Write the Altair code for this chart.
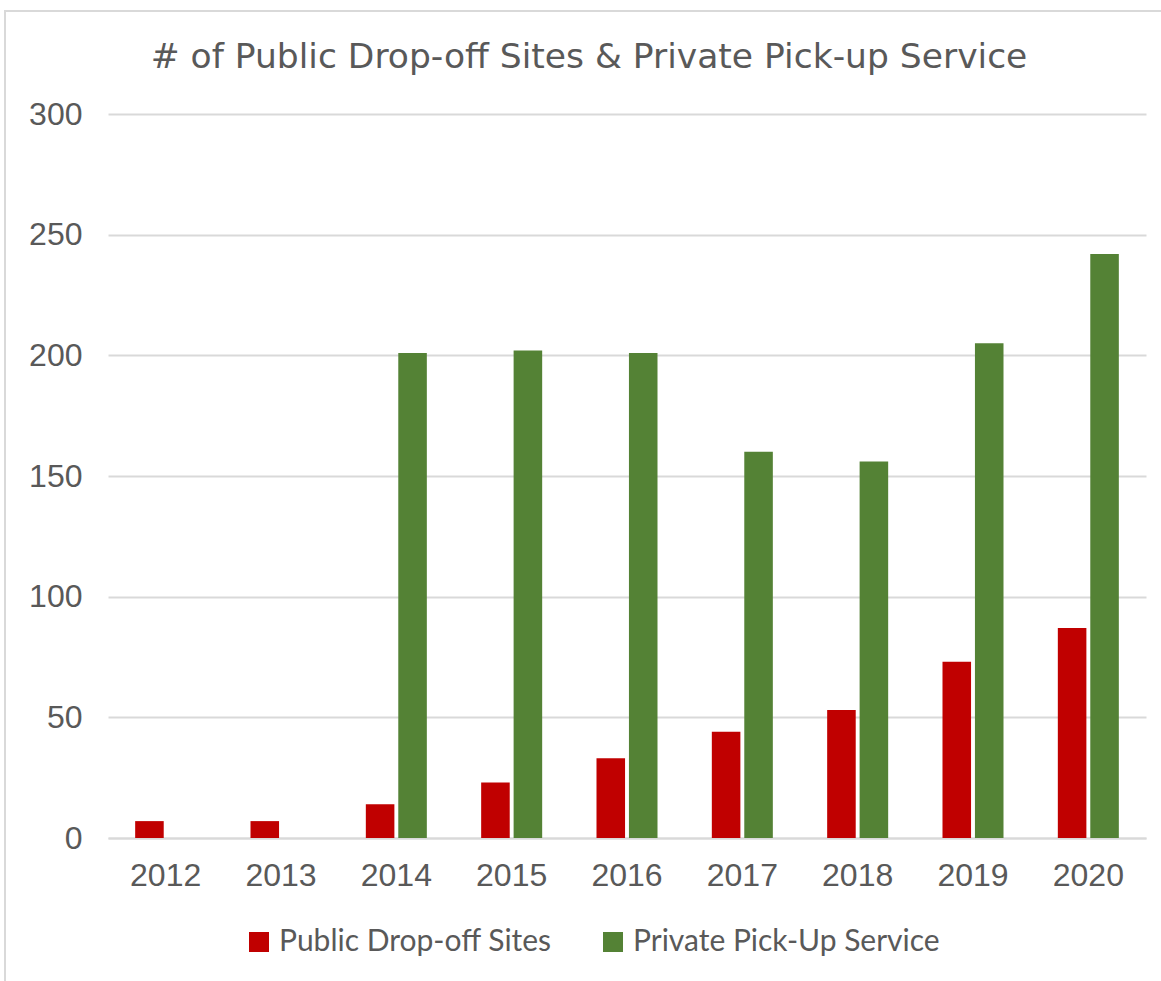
import altair as alt
import pandas as pd

years = ["2012", "2013", "2014", "2015", "2016", "2017", "2018", "2019", "2020"]
public_dropoff = [7, 7, 14, 23, 33, 44, 53, 73, 87]
private_pickup = [None, None, 201, 202, 201, 160, 156, 205, 242]
series_names = ["Public Drop-off Sites", "Private Pick-Up Service"]
series_colors = ["#C00000", "#548235"]
y_ticks = [0, 50, 100, 150, 200, 250, 300]
title_text = "# of Public Drop-off Sites & Private Pick-up Service"

rows = []
for yr, p, q in zip(years, public_dropoff, private_pickup):
    rows.append({"Year": yr, "Series": series_names[0], "Count": p})
    if q is not None:
        rows.append({"Year": yr, "Series": series_names[1], "Count": q})
df = pd.DataFrame(rows)

TXT = "#595959"
GRID = "#D9D9D9"

bars = alt.Chart(df).mark_bar().encode(
    x=alt.X(
        "Year:N",
        sort=years,
        scale=alt.Scale(paddingInner=0.471, paddingOuter=0.2355),
        axis=alt.Axis(
            title=None, labelAngle=0, labelFontSize=32, labelColor=TXT,
            labelFont="Liberation Sans", labelPadding=22, ticks=False,
            domainColor=GRID, domainWidth=2, grid=False,
        ),
    ),
    xOffset=alt.XOffset(
        "Series:N", sort=series_names,
        scale=alt.Scale(domain=series_names, paddingInner=0.12, paddingOuter=0),
    ),
    y=alt.Y(
        "Count:Q",
        scale=alt.Scale(domain=[0, 300], nice=False),
        axis=alt.Axis(
            values=y_ticks, title=None, labelFontSize=32, labelColor=TXT,
            labelFont="Liberation Sans", labelPadding=26, ticks=False,
            domain=False, gridColor=GRID, gridWidth=2,
        ),
    ),
    color=alt.Color(
        "Series:N",
        sort=series_names,
        scale=alt.Scale(domain=series_names, range=series_colors),
        legend=alt.Legend(
            title=None, orient="none", legendX=136, legendY=813,
            direction="horizontal", symbolType="square", symbolSize=400,
            symbolStrokeWidth=0, labelFontSize=30, labelFont="Lato",
            labelColor=TXT, columnPadding=46, labelOffset=5, padding=0,
            labelLimit=500,
        ),
    ),
)

frame = alt.Chart(pd.DataFrame({"f": [0]})).mark_rect(
    filled=False, stroke=GRID, strokeWidth=2
).encode(
    x=alt.value(-103), x2=alt.value(1200), y=alt.value(-103), y2=alt.value(1000)
)

chart = alt.layer(frame, bars).properties(
    width=1038,
    height=724,
    background="white",
    title=alt.TitleParams(
        text=title_text, font="DejaVu Sans", fontSize=34.5, fontWeight="normal",
        color=TXT, anchor="middle", frame="group", dx=-38, offset=0, dy=65,
    ),
    autosize=alt.AutoSizeParams(type="none"),
    padding={"left": 108, "top": 114, "right": 15, "bottom": 143},
).configure_view(strokeWidth=0, stroke=None)

chart.save("out.html", embed_options={"renderer": "svg", "actions": False})
